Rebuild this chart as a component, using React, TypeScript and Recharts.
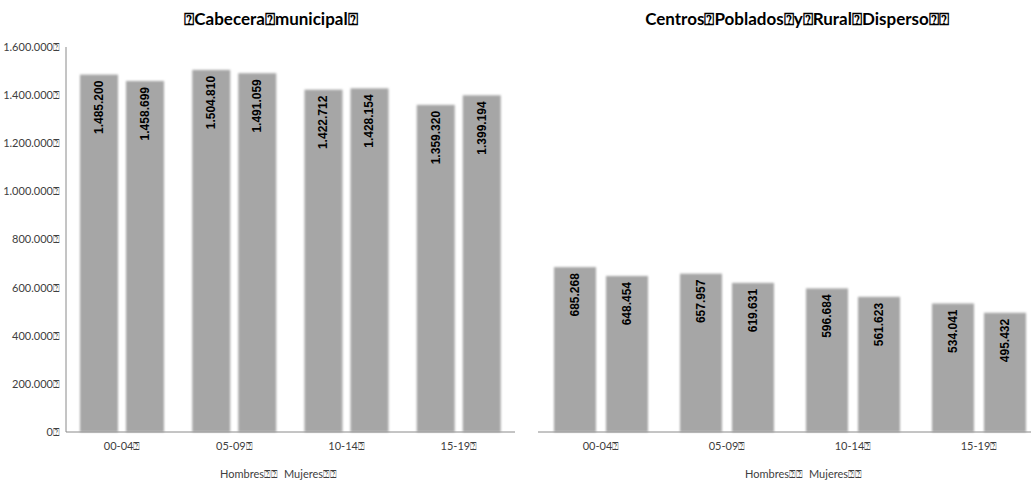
import React from 'react';
import { BarChart, Bar, XAxis, YAxis, LabelList } from 'recharts';

// Age groups shown on the category axis
const categories = ['00-04', '05-09', '10-14', '15-19'];

// Urban population (cabecera municipal)
const cabeceraHombres = [1485200, 1504810, 1422712, 1359320];
const cabeceraMujeres = [1458699, 1491059, 1428154, 1399194];

// Rural population (centros poblados y rural disperso)
const ruralHombres = [685268, 657957, 596684, 534041];
const ruralMujeres = [648454, 619631, 561623, 495432];

// Value axis ticks
const yTicks = [0, 200000, 400000, 600000, 800000, 1000000, 1200000, 1400000, 1600000];

const BOX = '\u2370';
const BAR_FILL = '#a6a6a6';
const AXIS_COLOR = '#8a8a8a';
const TEXT_COLOR = '#404040';
const FONT = 'Lato, "Open Sans", sans-serif';

const fmt = (v: number) => String(Math.round(v)).replace(/\B(?=(\d{3})+(?!\d))/g, '.');

const cabeceraData = categories.map((c, i) => ({
  grupo: c,
  hombres: cabeceraHombres[i],
  mujeres: cabeceraMujeres[i],
}));
const ruralData = categories.map((c, i) => ({
  grupo: c,
  hombres: ruralHombres[i],
  mujeres: ruralMujeres[i],
}));

const softBar = (filterId: string) => (props: any) => {
  const { x, y, width, height } = props;
  return <rect x={x} y={y} width={width} height={height} fill={BAR_FILL} filter={`url(#${filterId})`} />;
};

const valueLabel = (props: any) => {
  const { x, y, width, value } = props;
  const cx = x + width / 2;
  const ty = y + 6;
  return (
    <text
      x={cx}
      y={ty}
      transform={`rotate(-90 ${cx} ${ty})`}
      textAnchor="end"
      dominantBaseline="central"
      fill="#000"
      fontFamily='"Liberation Sans", Arial, sans-serif'
      fontWeight="bold"
      fontSize={12}
    >
      {fmt(value)}
    </text>
  );
};

const tickStyle = { fontFamily: FONT, fontSize: 11, fill: TEXT_COLOR };

const titleStyle: React.CSSProperties = {
  position: 'absolute',
  top: 8,
  fontFamily: FONT,
  fontWeight: 700,
  fontSize: 17,
  color: '#000',
  whiteSpace: 'nowrap',
  transform: 'translateX(-50%)',
};

const legendStyle: React.CSSProperties = {
  position: 'absolute',
  top: 467,
  fontFamily: FONT,
  fontSize: 11,
  color: TEXT_COLOR,
  whiteSpace: 'nowrap',
};

export default function App() {
  return (
    <div
      style={{
        position: 'absolute',
        left: 0,
        top: 0,
        width: 1031,
        height: 480,
        overflow: 'hidden',
        background: '#fff',
      }}
    >
      <div style={{ ...titleStyle, left: 271 }}>{`${BOX}Cabecera${BOX}municipal${BOX}`}</div>
      <div style={{ ...titleStyle, left: 797 }}>{`Centros${BOX}Poblados${BOX}y${BOX}Rural${BOX}Disperso${BOX}${BOX}`}</div>

      <div style={{ position: 'absolute', left: 0, top: 0 }}>
        <BarChart
          width={530}
          height={480}
          data={cabeceraData}
          margin={{ top: 47, right: 15, bottom: 18, left: 0 }}
          barSize={38}
          barGap={8}
        >
          <defs>
            <filter id="softLeft" x="-20%" y="-5%" width="140%" height="110%">
              <feGaussianBlur stdDeviation="1.3" />
            </filter>
          </defs>
          <XAxis
            dataKey="grupo"
            height={30}
            tickLine={false}
            axisLine={{ stroke: AXIS_COLOR }}
            tick={tickStyle}
            tickMargin={4}
            tickFormatter={(v: string) => `${v}${BOX}`}
          />
          <YAxis
            width={66}
            domain={[0, 1600000]}
            ticks={yTicks}
            interval={0}
            tickLine={false}
            axisLine={{ stroke: AXIS_COLOR }}
            tick={tickStyle}
            tickMargin={0}
            tickFormatter={(v: number) => `${fmt(v)}${BOX}`}
          />
          <Bar dataKey="hombres" isAnimationActive={false} shape={softBar('softLeft')}>
            <LabelList dataKey="hombres" content={valueLabel} />
          </Bar>
          <Bar dataKey="mujeres" isAnimationActive={false} shape={softBar('softLeft')}>
            <LabelList dataKey="mujeres" content={valueLabel} />
          </Bar>
        </BarChart>
      </div>

      <div style={{ position: 'absolute', left: 520, top: 0 }}>
        <BarChart
          width={540}
          height={480}
          data={ruralData}
          margin={{ top: 47, right: 18, bottom: 18, left: 18 }}
          barSize={42}
          barGap={10}
        >
          <defs>
            <filter id="softRight" x="-20%" y="-5%" width="140%" height="110%">
              <feGaussianBlur stdDeviation="1.3" />
            </filter>
          </defs>
          <XAxis
            dataKey="grupo"
            height={30}
            tickLine={false}
            axisLine={{ stroke: AXIS_COLOR }}
            tick={tickStyle}
            tickMargin={4}
            tickFormatter={(v: string) => `${v}${BOX}`}
          />
          <YAxis hide domain={[0, 1600000]} ticks={yTicks} />
          <Bar dataKey="hombres" isAnimationActive={false} shape={softBar('softRight')}>
            <LabelList dataKey="hombres" content={valueLabel} />
          </Bar>
          <Bar dataKey="mujeres" isAnimationActive={false} shape={softBar('softRight')}>
            <LabelList dataKey="mujeres" content={valueLabel} />
          </Bar>
        </BarChart>
      </div>

      <div style={{ ...legendStyle, left: 220 }}>{`Hombres${BOX}${BOX}`}</div>
      <div style={{ ...legendStyle, left: 284 }}>{`Mujeres${BOX}${BOX}`}</div>
      <div style={{ ...legendStyle, left: 745 }}>{`Hombres${BOX}${BOX}`}</div>
      <div style={{ ...legendStyle, left: 809 }}>{`Mujeres${BOX}${BOX}`}</div>
    </div>
  );
}
